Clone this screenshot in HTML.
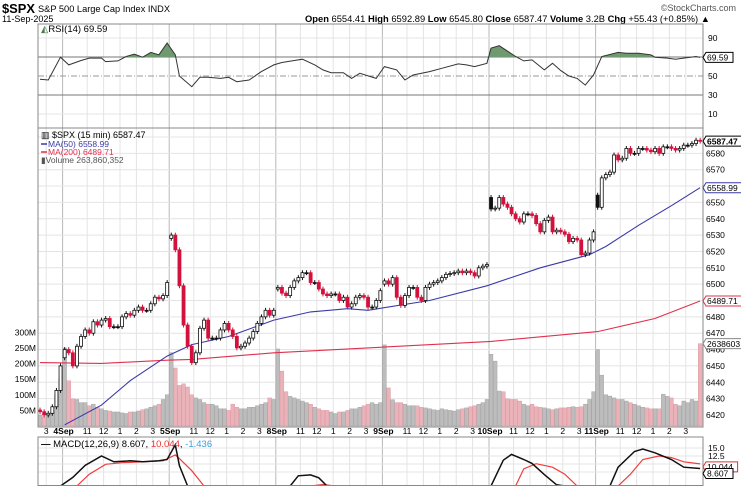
<!DOCTYPE html>
<html><head><meta charset="utf-8"><style>
html,body{margin:0;padding:0;background:#fff;overflow:hidden;width:741px;height:486px;}
svg{display:block;font-family:"Liberation Sans",sans-serif;overflow:hidden;}
</style></head><body>
<svg id="c" width="741" height="486" viewBox="0 0 741 486" xmlns="http://www.w3.org/2000/svg">
<rect width="741" height="486" fill="#fff"/>
<g>
<text x="2" y="13" font-size="13" font-weight="bold" fill="#000" textLength="33" lengthAdjust="spacingAndGlyphs">$SPX</text>
<text x="38" y="12" font-size="9.5" fill="#000" textLength="132" lengthAdjust="spacingAndGlyphs">S&amp;P 500 Large Cap Index INDX</text>
<text x="2" y="22" font-size="9" fill="#000">11-Sep-2025</text>
<text x="736" y="11" font-size="9" fill="#555" text-anchor="end">©StockCharts.com</text>
<text x="305" y="22" font-size="9" fill="#000" textLength="405" lengthAdjust="spacingAndGlyphs"><tspan font-weight="bold">Open</tspan> 6554.41 <tspan font-weight="bold">High</tspan> 6592.89 <tspan font-weight="bold">Low</tspan> 6545.80 <tspan font-weight="bold">Close</tspan> 6587.47 <tspan font-weight="bold">Volume</tspan> 3.2B <tspan font-weight="bold">Chg</tspan> +55.43 (+0.85%) ▲</text>
</g>
<g id="grid"></g>
<g id="vol"></g>
<g id="rsi"></g>
<g id="main"></g>
<g id="macd"></g>
<g id="axes"></g>
</svg>
<script>
// ---- data ----
const dayStarts = [0, 6, 32, 58, 84, 110, 136];
const dayLabels = ["", "4Sep", "5Sep", "8Sep", "9Sep", "10Sep", "11Sep"];
const dayOpens = [6423, 6455, 6528, 6497, 6500, 6553, 6554.41];
const closes = [
6422,6420,6421,6425,6435,6450,
6460,6458,6450,6462,6468,6472,6470,6477,6475,6478,6479,6474,6474,6474,6480,6482,6481,6484,6486,6484,6484,6488,6492,6491,6493,6501,
6530,6521,6499,6475,6462,6452,6458,6473,6478,6467,6467,6467,6472,6476,6472,6468,6461,6462,6464,6467,6471,6476,6480,6484,6481,6484,
6498,6494.5,6493,6498,6502,6504,6507,6507,6501,6501,6497,6494,6493,6494,6494,6490,6492,6486,6488,6492,6493,6492,6486,6486,6490,6496,
6502,6500,6504,6492,6487,6493,6498,6498,6492,6490,6498,6500,6501,6502,6504,6506,6506.5,6507,6508,6507,6508,6507,6505,6510,6511,6512,
6546,6546.5,6553,6549,6547,6543,6540,6538,6543,6543,6542,6537,6532,6539,6541,6532,6533,6532,6530.5,6526,6528,6527,6518,6519,6527,6532,
6547,6565,6567,6568.5,6579,6576,6577,6583,6580,6580,6583,6583,6582,6581,6583,6580,6584,6584,6583,6582,6583,6585,6585,6586,6588,6587.47
];
const volumes = [
35,30,40,45,100,150,
250,145,87,85,75,75,65,70,60,55,50,48,45,45,42,40,45,45,48,52,55,60,65,70,85,100,
235,186,130,135,125,100,90,85,75,70,70,65,55,55,50,70,60,55,55,60,60,65,70,75,90,85,
247,176,110,95,90,85,80,75,70,60,55,50,50,45,40,45,45,50,55,55,60,65,70,75,70,75,
260,122,84,75,75,70,65,65,65,60,58,55,52,50,55,52,50,48,52,55,58,62,65,70,75,85,
230,208,112,110,87,85,85,80,70,65,70,62,60,58,55,52,55,58,58,60,62,60,62,70,85,110,
245,163,100,96,90,85,85,80,75,70,65,60,58,55,55,55,102,95,90,70,65,80,75,85,80,264
];
const ma50Idx = [6,15,22,31,37,46,57,66,75,80,95,109,122,134,138,146,154,161];
const ma50 = [6414,6426,6441,6456,6463,6468,6478,6483,6485,6484,6490,6499,6510,6518,6523,6536,6548,6559];
const ma200Idx = [0,15,31,37,57,80,110,136,150,161];
const ma200 = [6452,6451.5,6453.5,6454,6458,6461,6465,6471,6479,6489.7];
const rsiIdx = [0,2,5,7,10,12,15,16,19,21,23,25,27,29,31,33,34,37,39,41,44,46,48,51,54,57,59,62,64,67,69,71,74,76,78,82,84,87,89,91,95,98,102,104,106,109,110,112,116,118,120,123,125,127,129,131,133,135,137,141,143,146,149,150,153,155,157,160,161];
const rsiVals = [46.5,45.8,69.8,61.7,66.3,68.8,68.8,65.2,65.9,70.5,73,69.8,74.8,72.3,84.7,72.3,50,38.7,48.6,48.6,47.5,48.6,44,45.8,54.6,61.7,64.2,66.3,67.7,61.7,56.4,53.5,53.5,47.5,52.8,47.5,59.9,56.4,45.8,51,54.6,58.1,62.7,61.7,59.9,63.4,79.4,81.9,70.5,65.9,67,56.4,63.4,55.7,50,47.5,40.4,51,70.5,74.8,74,74,72.3,69.8,68.8,67.7,68.8,70.5,69.59];
const macdIdx = [0,5,8,11,15,18,22,25,29,31,33,34,36,48,61,63,66,68,70,85,110,113,115,118,120,123,126,128,132,139,141,145,147,150,154,157,161];
const macdVals = [-5,2.7,5.8,9.6,12.5,10.7,11,10.7,11,11.4,16,9.5,2.5,-10,3,6.3,6.6,5.7,2.7,-10,2.5,11.2,13,11.4,10.2,6.7,3.5,2.5,-5,3,9,13.9,14.7,13.5,11.4,9,8.607];
const sigIdx = [9,12,16,20,25,30,33,34,37,40,55,66,69,72,90,116,118,121,125,128,131,135,141,144,147,151,154,157,161];
const sigVals = [2.5,6.8,9.9,10.4,10.7,11,12.8,11.7,7.9,2.5,-5,3,3.6,3,-5,2.5,8.5,10.1,9,6.8,2.5,-5,2.5,6.8,11.4,12.5,12,10.7,10.044];
const priceTicks = [6420,6430,6440,6450,6460,6470,6480,6490,6500,6510,6520,6530,6540,6550,6560,6570,6580];
const volTicks = [50,100,150,200,250,300];
const rsiTicks = [90,50,30,10];
const macdTicks = [15.0,12.5,7.5];
const hourOffsets = [6,10,14,18,22];
const hourLabels = ["11","12","1","2","3"];

// ---- axes ----
const L=38, R=703, BW=4.1;
const xOf = i => L + (i+0.5)*BW;
const xEdge = i => L + i*BW;
const yP = p => 137 + (6590-p)*1.635;
const yV = v => 426 - v*0.312;
const yR = r => 76 - (r-50)*0.95;
const yM = m => Math.max(430, Math.min(486, 448 + (15-m)*3.2));
const NS="http://www.w3.org/2000/svg";
function mk(tag, attrs, parent){const e=document.createElementNS(NS,tag);for(const k in attrs)e.setAttribute(k,attrs[k]);if(parent)parent.appendChild(e);return e;}
const G = id => document.getElementById(id);
const grid=G('grid'), vol=G('vol'), rsi=G('rsi'), main=G('main'), macd=G('macd'), axes=G('axes');

const panels=[[24,128,'rsi-panel'],[128,427,'price-panel'],[437,485.5,'macd-panel']];
const defs=mk('defs',{},document.getElementById('c'));
panels.forEach((p,k)=>{const cp=mk('clipPath',{id:'cp'+k},defs);mk('rect',{x:L,y:p[0],width:R-L,height:(k==2?485:p[1])-p[0]},cp);});

// vertical grid
const vlines=[];
dayStarts.forEach((s,d)=>{ if(d>0) vlines.push([xEdge(s),true]); });
[-20].concat(dayStarts.slice(1)).forEach(s=>{hourOffsets.forEach(o=>{const x=xEdge(s+o); if(x>L&&x<R) vlines.push([x,false]);});});
panels.forEach(p=>{
  vlines.forEach(v=>{const ln=mk('line',{x1:v[0],x2:v[0],y1:p[0],y2:p[1],stroke:v[1]?'#b8b8b8':'#e4e4e4','stroke-width':1},grid);
  
  });
});
priceTicks.concat([6590]).forEach(t=>{const ln=mk('line',{x1:L,x2:R,y1:yP(t),y2:yP(t),stroke:'#e4e4e4'},grid);
  
  });
[90,10].forEach(t=>{const ln=mk('line',{x1:L,x2:R,y1:yR(t),y2:yR(t),stroke:'#e4e4e4'},grid);
  
  });
[15,12.5,10,7.5].forEach(t=>{const ln=mk('line',{x1:L,x2:R,y1:yM(t),y2:yM(t),stroke:'#e4e4e4'},grid);
  
  });

panels.forEach(p=>{const r=mk('rect',{x:L,y:p[0],width:R-L,height:p[1]-p[0],fill:'none',stroke:'#888','stroke-width':1},axes);
  
  });

// ---- volume ----
closes.forEach((c,i)=>{const prev=i>0?closes[i-1]:c;const up=c>=prev;
  const b=mk('rect',{x:xOf(i)-1.9,y:yV(volumes[i]),width:3.8,height:426-yV(volumes[i]),fill:up?'#bdbdbd':'#eab3ba',stroke:up?'#9a9a9a':'#dc8f99','stroke-width':0.4},vol);
  
  });

function linePath(idx,vals,yf){return idx.map((ix,k)=>(k?'L':'M')+xOf(ix).toFixed(1)+' '+yf(vals[k]).toFixed(1)).join(' ');}
const m200=mk('path',{d:linePath(ma200Idx,ma200,yP),fill:'none',stroke:'#e0304e','stroke-width':1.1,'clip-path':'url(#cp1)'},main);


const m50=mk('path',{d:linePath(ma50Idx,ma50,yP),fill:'none',stroke:'#3a3aa8','stroke-width':1.1,'clip-path':'url(#cp1)'},main);



// ---- candles ----
closes.forEach((c,i)=>{
  const ds=dayStarts.indexOf(i);
  const o= ds>=0 ? dayOpens[ds] : closes[i-1];
  const prev= i>0?closes[i-1]:o;
  const col = c>=prev ? '#111' : '#d4103c';
  const hollow = c>o;
  const hi=Math.max(o,c)+1.5, lo=Math.min(o,c)-1.5;
  const x=xOf(i);
  const w=mk('line',{x1:x,x2:x,y1:yP(hi),y2:yP(lo),stroke:col,'stroke-width':1},main);
  
  
  const top=yP(Math.max(o,c)), h=Math.max(1,Math.abs(yP(o)-yP(c)));
  const b=mk('rect',{x:x-1.5,y:top,width:3,height:h,fill:hollow?'#fff':col,stroke:col,'stroke-width':0.8},main);
  
  
});

// ---- RSI ----
[[70,'#777','none'],[30,'#777','none'],[50,'#999','6,2,1,2']].forEach(t=>{const ln=mk('line',{x1:L,x2:R,y1:yR(t[0]),y2:yR(t[0]),stroke:t[1],'stroke-width':1,'stroke-dasharray':t[2]},rsi);
  
  });
const cpA=mk('clipPath',{id:'rsiAbove'},defs);mk('rect',{x:L,y:24,width:R-L,height:yR(70)-24},cpA);
const fillD=linePath(rsiIdx,rsiVals,yR)+' L'+xOf(161)+' '+yR(70)+' L'+xOf(0)+' '+yR(70)+' Z';
const rf=mk('path',{d:fillD,fill:'#6f9a6f','clip-path':'url(#rsiAbove)'},rsi);


const rl=mk('path',{d:linePath(rsiIdx,rsiVals,yR),fill:'none',stroke:'#333','stroke-width':1},rsi);



// ---- MACD ----
const mcl=mk('path',{d:linePath(sigIdx,sigVals,yM),fill:'none',stroke:'#f03c3c','stroke-width':1.2,'clip-path':'url(#cp2)'},macd);


const mml=mk('path',{d:linePath(macdIdx,macdVals,yM),fill:'none',stroke:'#111','stroke-width':1.5,'clip-path':'url(#cp2)'},macd);



// ---- labels ----
function txt(x,y,s,attrs,name,parent){const t=mk('text',Object.assign({x:x,y:y,'font-size':9,fill:'#000'},attrs||{}),parent||axes);t.textContent=s;
  
  return t;}
priceTicks.forEach(t=>txt(706,yP(t)+3,String(t),{'font-size':8.5},'price-tick-label'));
volTicks.forEach(t=>txt(36,yV(t)+3,t+'M',{'text-anchor':'end','font-size':8.5},'volume-tick-label'));
rsiTicks.forEach(t=>txt(708,yR(t)+3,String(t),{'font-size':8.5},'rsi-tick-label'));
macdTicks.forEach(t=>txt(708,yM(t)+3,t.toFixed(1),{'font-size':8.5},'macd-tick-label'));
[-20].concat(dayStarts.slice(1)).forEach((s,d)=>{
  hourOffsets.forEach((o,k)=>{const x=xEdge(s+o); if(x>L&&x<R-2) txt(x,434,hourLabels[k],{'text-anchor':'middle','font-size':8.5},'time-tick-label');});
  if(d>0) txt(xEdge(s)+1,434,dayLabels[d],{'font-weight':'bold','font-size':8.5,'text-anchor':'middle'},'day-tick-label');
});
function tag(y,s,col,name){const w=s.length*4.6+4;const g=mk('g',{},axes);
  
  
  mk('path',{d:`M703 ${y} L706 ${y-5} L${706+w} ${y-5} L${706+w} ${y+5} L706 ${y+5} Z`,fill:'#fff',stroke:col,'stroke-width':1},g);
  const t=mk('text',{x:707,y:y+3.2,'font-size':8.5,fill:'#000','font-weight':name==='close-price-tag'?'bold':'normal'},g);t.textContent=s;}
tag(yP(6587.47),'6587.47','#000','close-price-tag');
tag(yP(6558.99),'6558.99','#3a3aa8','ma50-tag');
tag(yP(6489.71),'6489.71','#e0304e','ma200-tag');
tag(yV(264),'2638603','#888','volume-tag');
tag(yR(69.59),'69.59','#000','rsi-tag');
tag(yM(10.044)+3,'10.044','#e03030','macd-signal-tag');
tag(yM(8.607)+5,'8.607','#000','macd-tag');
const lg=mk('g',{},axes);


txt(41,138,'▥ $SPX (15 min) 6587.47',{'font-size':9},'legend-price',lg);
mk('line',{x1:41,x2:47,y1:144,y2:144,stroke:'#3a3aa8','stroke-width':1.5},lg);
txt(48,147,'MA(50) 6558.99',{'font-size':8.5,fill:'#3a3aa8'},'legend-ma50',lg);
mk('line',{x1:41,x2:47,y1:152,y2:152,stroke:'#e0304e','stroke-width':1.5},lg);
txt(48,155,'MA(200) 6489.71',{'font-size':8.5,fill:'#e0304e'},'legend-ma200',lg);
txt(41,163,'▮Volume 263,860,352',{'font-size':8.5,fill:'#555'},'legend-volume',lg);
const rlg=txt(41,32,'',{'font-size':9.5},'rsi-legend');
rlg.innerHTML='<tspan fill="#4a7a4a">◭</tspan>RSI(14) 69.59';
const mlg=txt(41,447,'',{'font-size':9.5},'macd-legend');
mlg.innerHTML='<tspan font-weight="bold">—</tspan> MACD(12,26,9) 8.607, <tspan fill="#f03030">10.044</tspan>, <tspan fill="#3aa0e0">-1.436</tspan>';
</script>
</body></html>
